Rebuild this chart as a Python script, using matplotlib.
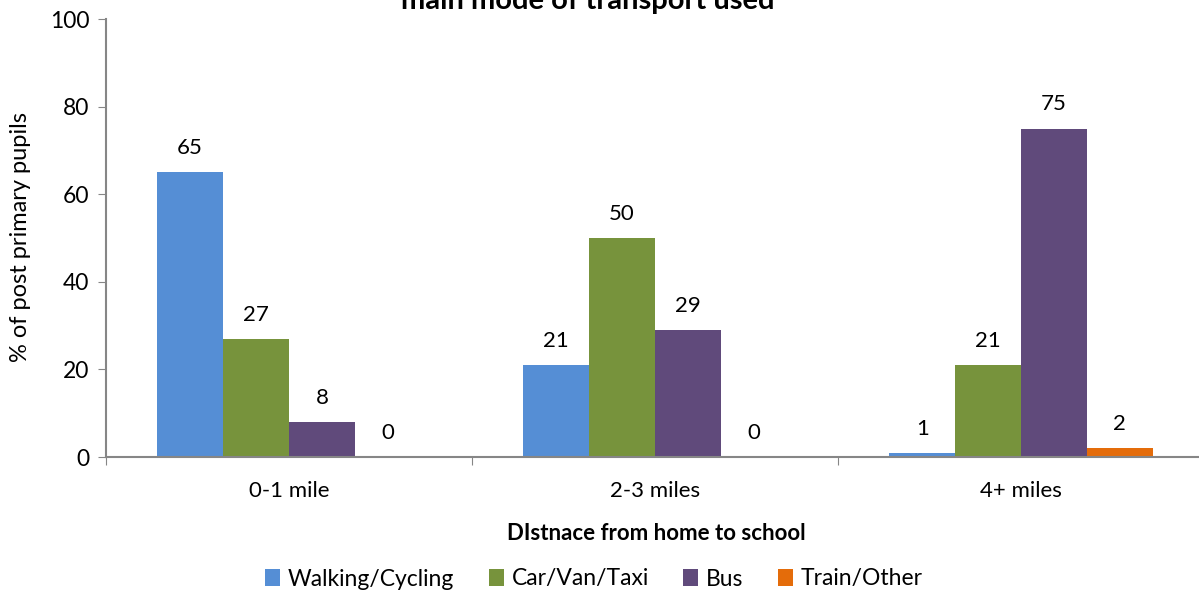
import numpy as np
import matplotlib.pyplot as plt

# data
categories = ['0-1 mile', '2-3 miles', '4+ miles']
series = ['Walking/Cycling', 'Car/Van/Taxi', 'Bus', 'Train/Other']
values = [
    [65, 21, 1],
    [27, 50, 21],
    [8, 29, 75],
    [0, 0, 2],
]
colors = ['#558ED5', '#77933C', '#604A7B', '#E46C0A']

plt.rcParams['font.family'] = ['Lato', 'DejaVu Sans']
fs = 16

fig = plt.figure(figsize=(11.99, 5.93), dpi=100)
ax = fig.add_axes([106 / 1199, (593 - 457) / 593, (1204 - 106) / 1199, (457 - 19) / 593])

x = np.arange(len(categories))
w = 0.18
for i, (name, vals, c) in enumerate(zip(series, values, colors)):
    pos = x + (i - 1.5) * w
    ax.bar(pos, vals, width=w, color=c, label=name)
    for p, v in zip(pos, vals):
        ax.text(p, v + 3.2, str(v), ha='center', va='bottom', fontsize=fs)

ax.set_xlim(-0.5, 2.5)
ax.set_ylim(0, 100)
ax.set_yticks(range(0, 101, 20))
ax.tick_params(axis='y', labelsize=fs + 0.5, length=6, color='#868686', pad=6)

ax.set_xticks([-0.5, 0.5, 1.5, 2.5])
ax.set_xticklabels([])
ax.set_xticks(x, minor=True)
ax.set_xticklabels(categories, minor=True)
ax.tick_params(axis='x', which='major', length=6, color='#868686')
ax.tick_params(axis='x', which='minor', length=0, labelsize=fs, pad=17)

for s in ['top', 'right']:
    ax.spines[s].set_visible(False)
for s in ['left', 'bottom']:
    ax.spines[s].set_color('#868686')
    ax.spines[s].set_linewidth(1.5)

ax.set_ylabel('% of post primary pupils', fontsize=fs + 1)
ax.yaxis.set_label_coords((20 - 106) / 1098, (457 - 237) / 438)
ax.yaxis.label.set_va('center')
ax.set_xlabel('DIstnace from home to school', fontsize=fs, fontweight='bold')
ax.xaxis.set_label_coords((656 - 106) / 1098, (457 - 533) / 438)
ax.xaxis.label.set_va('center')

fig.text(588 / 1199, 1 - 9 / 593, 'main mode of transport used', ha='center', va='baseline',
         fontsize=21, fontweight='bold')

fig.legend(loc='center', bbox_to_anchor=(594 / 1199, 1 - 579 / 593), ncol=4, frameon=False,
           fontsize=fs + 0.5, handlelength=0.65, handleheight=0.75, columnspacing=1.5,
           handletextpad=0.35)

plt.savefig('out.png', dpi=100)
